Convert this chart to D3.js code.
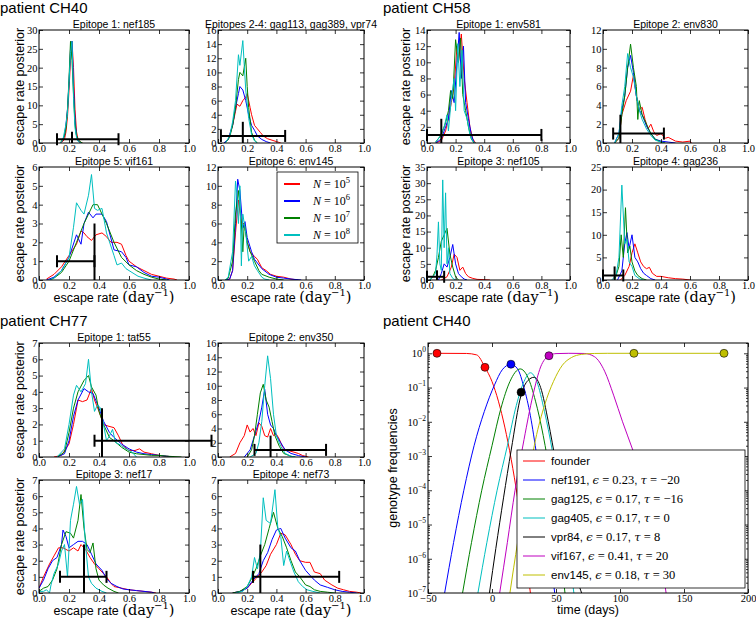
<!DOCTYPE html>
<html><head><meta charset="utf-8">
<script src="https://cdn.jsdelivr.net/npm/d3@7"></script>
<style>body{margin:0;background:#fff}</style>
</head><body>
<script>
// ================= DATA =================
const xTicks = [0, 0.2, 0.4, 0.6, 0.8, 1.0];
const popLabels = ["5", "6", "7", "8"]; // N = 10^k

// ---- patient CH40 ----
const ch40_nef185_N5 = [[0.14,0],[0.15,0.2],[0.16,0.5],[0.17,1],[0.18,3],[0.19,7],[0.20,14],[0.21,22],[0.22,27],[0.23,20],[0.24,9],[0.25,3],[0.26,1],[0.27,0.4],[0.28,0.2],[0.29,0]];
const ch40_nef185_N6 = [[0.14,0],[0.15,0.3],[0.16,1],[0.17,2],[0.18,5],[0.19,9],[0.20,16],[0.21,25],[0.22,27],[0.23,15],[0.24,6],[0.25,2],[0.26,0.5],[0.27,0.2],[0.28,0]];
const ch40_nef185_N7 = [[0.14,0],[0.15,0.5],[0.16,1],[0.17,2],[0.18,4],[0.19,9],[0.20,17],[0.21,27],[0.22,22],[0.23,13],[0.24,5],[0.25,2],[0.26,1],[0.27,0.5],[0.28,0.2],[0.29,0]];
const ch40_nef185_N8 = [[0.14,0],[0.15,0.3],[0.16,1],[0.17,3],[0.18,5],[0.19,8],[0.20,16],[0.21,24],[0.22,27],[0.23,12],[0.24,4],[0.25,1.5],[0.26,0.5],[0.27,0.2],[0.28,0]];

const ch40_e24_N5 = [[0.04,0],[0.07,0.5],[0.1,2.5],[0.12,4.5],[0.13,5.5],[0.15,5.2],[0.17,6.0],[0.19,6.5],[0.2,7.0],[0.22,5],[0.23,4],[0.25,2.5],[0.27,2],[0.29,1.5],[0.31,1],[0.34,0.6],[0.37,0.4],[0.4,0.2],[0.43,0]];
const ch40_e24_N6 = [[0.04,0],[0.07,0.5],[0.1,2.5],[0.12,5],[0.14,7],[0.15,8],[0.17,7.5],[0.19,6],[0.21,4],[0.23,2.5],[0.25,1.8],[0.27,1],[0.3,0.5],[0.33,0.2],[0.36,0]];
const ch40_e24_N7 = [[0.05,0],[0.08,0.8],[0.1,2.5],[0.12,5],[0.14,9],[0.15,10],[0.17,9.5],[0.19,12],[0.2,8],[0.21,5],[0.23,1.5],[0.25,0.4],[0.27,0]];
const ch40_e24_N8 = [[0.05,0],[0.08,1],[0.1,3],[0.12,6],[0.14,12.5],[0.15,11],[0.17,14.5],[0.18,11],[0.19,7.5],[0.21,3.5],[0.23,1.2],[0.25,0.3],[0.27,0]];

const ch40_vif161_N5 = [[0.05,0.05],[0.1,0.3],[0.15,0.7],[0.2,1.3],[0.25,1.9],[0.28,2.6],[0.3,2.5],[0.32,2.3],[0.35,2.1],[0.38,2.4],[0.42,2.5],[0.45,2.3],[0.48,2.0],[0.52,2.0],[0.55,1.9],[0.58,1.3],[0.6,1.0],[0.65,0.7],[0.7,0.5],[0.75,0.3],[0.8,0.2],[0.85,0.1],[0.9,0.05],[0.92,0]];
const ch40_vif161_N6 = [[0.05,0],[0.1,0.15],[0.15,0.5],[0.2,1.2],[0.25,2.4],[0.28,1.9],[0.3,3.0],[0.33,3.6],[0.36,3.3],[0.38,3.5],[0.42,3.5],[0.45,3.1],[0.5,1.6],[0.55,1.5],[0.58,1.2],[0.6,0.8],[0.65,0.7],[0.7,0.4],[0.75,0.2],[0.8,0.15],[0.85,0.05],[0.87,0]];
const ch40_vif161_N7 = [[0.07,0],[0.1,0.1],[0.15,0.4],[0.2,1.0],[0.25,2.0],[0.3,3.0],[0.33,3.5],[0.36,4.0],[0.39,4.0],[0.42,3.5],[0.45,3.0],[0.5,2.0],[0.55,1.2],[0.6,0.8],[0.65,0.5],[0.7,0.3],[0.75,0.15],[0.8,0.05],[0.85,0]];
const ch40_vif161_N8 = [[0.07,0],[0.1,0.1],[0.15,0.5],[0.2,1.2],[0.23,2.8],[0.25,4.1],[0.28,3.7],[0.3,3.5],[0.33,4.5],[0.35,5.6],[0.37,3.8],[0.39,3.7],[0.42,3.8],[0.45,2.5],[0.5,1.3],[0.52,0.8],[0.55,0.9],[0.58,0.6],[0.62,0.4],[0.66,0.2],[0.7,0.1],[0.75,0]];

const ch40_env145_N5 = [[0.05,0],[0.08,0.1],[0.1,1],[0.12,5],[0.14,8.5],[0.16,6],[0.18,6],[0.2,4],[0.22,3],[0.25,2.5],[0.27,2.2],[0.3,1.3],[0.33,1],[0.36,0.6],[0.4,0.4],[0.45,0.3],[0.5,0.1],[0.55,0]];
const ch40_env145_N6 = [[0.05,0],[0.08,0.1],[0.1,1],[0.12,6],[0.135,10.7],[0.15,9.5],[0.17,5.5],[0.185,6.2],[0.2,4.5],[0.23,3],[0.25,2.2],[0.3,1.2],[0.35,0.6],[0.4,0.3],[0.45,0.2],[0.5,0.1],[0.57,0]];
const ch40_env145_N7 = [[0.05,0],[0.07,0.2],[0.1,2],[0.12,7],[0.14,9.5],[0.16,6],[0.17,3],[0.18,6],[0.2,4],[0.22,3],[0.25,2],[0.28,1],[0.3,0.6],[0.35,0.3],[0.4,0.1],[0.45,0]];
const ch40_env145_N8 = [[0.05,0],[0.07,0.3],[0.1,3],[0.12,10.5],[0.13,9],[0.14,6],[0.15,10],[0.16,1.5],[0.17,7],[0.19,5],[0.21,2],[0.23,2.5],[0.25,1.5],[0.27,1],[0.3,0.3],[0.32,0.1],[0.35,0]];

// ---- patient CH58 ----
const ch58_env581_N5 = [[0.06,0],[0.1,0.3],[0.13,1.5],[0.15,3],[0.17,5],[0.19,7],[0.21,12],[0.22,10],[0.24,13.5],[0.26,8],[0.28,5],[0.3,2],[0.32,0.5],[0.34,0]];
const ch58_env581_N6 = [[0.06,0],[0.1,0.5],[0.13,2],[0.15,3],[0.17,6.5],[0.19,5],[0.21,10],[0.225,13.7],[0.24,8],[0.255,12],[0.27,5],[0.29,3],[0.31,1],[0.33,0]];
const ch58_env581_N7 = [[0.06,0.1],[0.1,1],[0.13,2.5],[0.15,4],[0.165,6.5],[0.18,5.5],[0.2,12.8],[0.22,10],[0.235,13],[0.25,6],[0.27,4],[0.29,2],[0.31,0.5],[0.33,0]];
const ch58_env581_N8 = [[0.06,0.1],[0.09,0.8],[0.12,2],[0.14,3.5],[0.15,1.5],[0.17,5.5],[0.19,8],[0.2,4],[0.215,12.3],[0.23,7],[0.245,11.5],[0.26,4],[0.28,3],[0.3,1],[0.32,0.2],[0.34,0]];

const ch58_env830_N5 = [[0.08,0],[0.11,0.5],[0.13,3],[0.16,4.5],[0.19,5.5],[0.21,7.2],[0.23,5],[0.25,3.5],[0.27,3.8],[0.29,2.5],[0.31,1.5],[0.33,2],[0.35,1.2],[0.37,0.8],[0.4,1.0],[0.43,0.5],[0.45,0.6],[0.5,0.2],[0.55,0.1],[0.6,0.2],[0.61,0]];
const ch58_env830_N6 = [[0.08,0],[0.11,1],[0.13,3.5],[0.15,5],[0.17,8],[0.19,9.3],[0.21,7.5],[0.23,5],[0.25,3.5],[0.27,3],[0.3,1.8],[0.33,1],[0.36,0.4],[0.4,0.2],[0.45,0.1],[0.5,0]];
const ch58_env830_N7 = [[0.08,0],[0.11,0.5],[0.13,3],[0.15,5],[0.17,8],[0.19,10.5],[0.21,8],[0.23,6],[0.24,2.5],[0.25,4.5],[0.27,3],[0.3,2],[0.33,1],[0.36,0.4],[0.4,0.1],[0.43,0]];
const ch58_env830_N8 = [[0.08,0],[0.11,1],[0.13,4],[0.15,6],[0.17,9.5],[0.19,8],[0.21,7],[0.23,5],[0.25,3.5],[0.27,2.5],[0.3,1.5],[0.33,0.8],[0.36,0.3],[0.4,0.1],[0.42,0]];

const ch58_nef105_N5 = [[0.1,0],[0.14,1],[0.17,4],[0.19,8],[0.21,7],[0.23,3],[0.25,4],[0.27,2],[0.29,1],[0.32,0.5],[0.35,0.2],[0.4,0.1],[0.44,0]];
const ch58_nef105_N6 = [[0.08,0],[0.1,2],[0.12,5],[0.14,4],[0.16,7],[0.18,11],[0.2,5],[0.22,2],[0.24,1],[0.26,0.3],[0.28,0]];
const ch58_nef105_N7 = [[0.02,0],[0.04,1],[0.06,3],[0.08,7],[0.1,12],[0.12,14],[0.14,16],[0.16,8],[0.18,4],[0.2,1],[0.22,0]];
const ch58_nef105_N8 = [[0.02,0],[0.04,1],[0.06,2],[0.07,8],[0.08,18],[0.09,5],[0.1,3],[0.11,31],[0.12,10],[0.13,27],[0.14,5],[0.15,10],[0.16,2],[0.18,0.5],[0.2,0]];

const ch58_gag236_N5 = [[0.12,0],[0.15,1],[0.18,3],[0.2,6],[0.22,8],[0.24,6],[0.26,4],[0.28,3],[0.3,2.5],[0.32,2.8],[0.34,1.5],[0.37,0.8],[0.4,0.8],[0.45,0.5],[0.5,0.3],[0.55,0.2],[0.6,0]];
const ch58_gag236_N6 = [[0.1,0],[0.13,2],[0.15,8],[0.165,10.5],[0.18,7],[0.2,10],[0.22,5],[0.24,4],[0.26,2.5],[0.28,1.5],[0.3,1],[0.33,0.3],[0.36,0]];
const ch58_gag236_N7 = [[0.08,0],[0.11,3],[0.125,10],[0.14,5],[0.155,16],[0.17,6],[0.185,7.5],[0.2,4],[0.22,2],[0.24,1],[0.27,0.3],[0.3,0]];
const ch58_gag236_N8 = [[0.06,0],[0.09,1],[0.11,5],[0.13,21],[0.15,8],[0.165,9],[0.18,4],[0.2,3],[0.22,1],[0.25,0.3],[0.28,0]];

// ---- patient CH77 ----
const ch77_tat55_N5 = [[0.1,0],[0.15,0.1],[0.2,0.8],[0.23,2],[0.26,3.5],[0.29,3.4],[0.32,3.5],[0.35,4.2],[0.37,3.5],[0.4,2.8],[0.43,2.0],[0.46,1.9],[0.5,1.8],[0.53,1.3],[0.56,0.7],[0.6,0.4],[0.64,0.4],[0.67,0.5],[0.7,0.3],[0.75,0.2],[0.8,0.1],[0.85,0.05],[0.9,0]];
const ch77_tat55_N6 = [[0.12,0],[0.17,0.2],[0.2,1],[0.23,2.5],[0.26,3.5],[0.3,4.2],[0.33,4.0],[0.36,3.9],[0.4,3.0],[0.43,2.2],[0.47,1.5],[0.5,1.2],[0.55,0.8],[0.6,0.5],[0.65,0.3],[0.7,0.2],[0.75,0.15],[0.8,0.1],[0.85,0.05],[0.9,0]];
const ch77_tat55_N7 = [[0.12,0],[0.17,0.3],[0.2,1.5],[0.23,3],[0.26,4],[0.3,4.7],[0.33,5.0],[0.35,4.3],[0.38,3.8],[0.4,2.8],[0.43,2.0],[0.47,1.2],[0.5,1.0],[0.55,0.6],[0.6,0.3],[0.65,0.2],[0.7,0.15],[0.75,0.1],[0.8,0.1],[0.85,0.05],[0.95,0]];
const ch77_tat55_N8 = [[0.12,0],[0.17,0.5],[0.2,2],[0.23,3.8],[0.25,4.4],[0.28,4.0],[0.31,4.5],[0.33,6.0],[0.35,4.0],[0.37,2.8],[0.39,3.2],[0.41,3.0],[0.43,2.0],[0.45,1.0],[0.47,1.3],[0.49,1.7],[0.51,0.9],[0.55,0.7],[0.58,0.5],[0.62,0.3],[0.65,0]];

const ch77_env350_N5 = [[0.08,0],[0.12,0.5],[0.15,2],[0.18,3],[0.2,4.5],[0.22,3.5],[0.24,4],[0.26,3],[0.28,4.8],[0.3,4.3],[0.32,3],[0.34,2.8],[0.36,4],[0.38,3],[0.4,3.2],[0.42,2.5],[0.44,1.5],[0.46,1.0],[0.5,0.8],[0.55,0.5],[0.58,0.2],[0.62,0]];
const ch77_env350_N6 = [[0.18,0],[0.22,1],[0.25,3],[0.28,5],[0.3,7],[0.32,9.5],[0.34,6],[0.36,4.5],[0.38,4],[0.4,3],[0.43,2],[0.46,1],[0.5,0.5],[0.55,0.2],[0.6,0]];
const ch77_env350_N7 = [[0.2,0],[0.23,1],[0.25,3],[0.27,6],[0.29,9],[0.31,10.2],[0.33,8],[0.35,7],[0.37,5],[0.39,3],[0.42,1.5],[0.45,0.5],[0.5,0.1],[0.53,0]];
const ch77_env350_N8 = [[0.22,0],[0.26,0.5],[0.28,2],[0.3,5],[0.32,10],[0.34,14.2],[0.36,11],[0.38,6],[0.4,3],[0.43,1.5],[0.46,0.5],[0.5,0.1],[0.53,0]];

const ch77_nef17_N5 = [[0.0,0.3],[0.03,1.0],[0.07,1.8],[0.1,2.3],[0.13,2.8],[0.16,2.8],[0.2,2.6],[0.23,2.8],[0.26,2.6],[0.28,3.0],[0.31,2.7],[0.34,2.2],[0.37,1.8],[0.4,1.5],[0.43,1.2],[0.45,1.0],[0.48,0.6],[0.5,0.4],[0.55,0.3],[0.6,0.2],[0.65,0.15],[0.7,0.1],[0.75,0.05],[0.78,0]];
const ch77_nef17_N6 = [[0.0,0.3],[0.03,0.8],[0.06,1.5],[0.09,2.0],[0.12,2.2],[0.15,3.0],[0.16,3.9],[0.18,3.5],[0.2,2.8],[0.23,3.0],[0.26,3.2],[0.29,3.2],[0.32,3.0],[0.35,2.4],[0.38,1.8],[0.42,1.4],[0.45,0.9],[0.48,0.6],[0.52,0.4],[0.56,0.25],[0.6,0.2],[0.65,0.15],[0.7,0.1],[0.75,0.05],[0.77,0]];
const ch77_nef17_N7 = [[0.0,0.1],[0.03,0.3],[0.06,0.4],[0.09,0.8],[0.12,1.5],[0.15,3.0],[0.18,3.8],[0.21,3.7],[0.23,3.4],[0.26,4.5],[0.28,6.1],[0.3,4.0],[0.32,2.7],[0.34,2.5],[0.36,3.1],[0.38,1.5],[0.4,0.8],[0.43,0.5],[0.46,0.3],[0.5,0.1],[0.53,0]];
const ch77_nef17_N8 = [[0.0,0.1],[0.03,0.1],[0.05,0.2],[0.07,0.0],[0.08,0.5],[0.1,1.2],[0.13,1.8],[0.15,2.6],[0.17,3.0],[0.19,1.0],[0.21,4.5],[0.23,5.5],[0.25,6.6],[0.27,5.5],[0.29,5.8],[0.31,3.0],[0.33,1.0],[0.35,0.6],[0.38,0.3],[0.42,0.1],[0.45,0]];

const ch77_nef73_N5 = [[0.1,0],[0.15,0.1],[0.2,0.3],[0.23,0.6],[0.26,0.9],[0.3,1.3],[0.33,1.7],[0.36,2.4],[0.4,3.0],[0.43,3.7],[0.46,3.6],[0.5,3.0],[0.53,2.4],[0.56,2.0],[0.6,1.9],[0.63,1.9],[0.66,1.3],[0.7,1.2],[0.73,0.8],[0.78,0.5],[0.82,0.3],[0.86,0.2],[0.9,0.1],[0.95,0.05],[0.98,0]];
const ch77_nef73_N6 = [[0.1,0],[0.15,0.1],[0.2,0.3],[0.24,0.8],[0.28,1.2],[0.31,2.0],[0.34,2.5],[0.37,3.3],[0.4,3.9],[0.43,4.0],[0.46,3.4],[0.5,2.8],[0.53,2.6],[0.56,2.0],[0.6,1.4],[0.63,1.1],[0.66,0.8],[0.7,0.5],[0.75,0.35],[0.8,0.2],[0.85,0.1],[0.9,0.05],[0.95,0]];
const ch77_nef73_N7 = [[0.1,0],[0.15,0.1],[0.2,0.4],[0.23,0.9],[0.26,1.5],[0.29,2.3],[0.32,3.0],[0.35,4.0],[0.38,5.0],[0.41,4.0],[0.44,3.5],[0.47,2.8],[0.5,2.0],[0.53,1.3],[0.56,1.0],[0.6,0.5],[0.63,0.4],[0.66,0.2],[0.7,0.1],[0.75,0.05],[0.8,0]];
const ch77_nef73_N8 = [[0.12,0],[0.17,0.1],[0.2,0.4],[0.23,1.0],[0.25,2.2],[0.27,1.5],[0.29,2.5],[0.31,5.9],[0.33,4.5],[0.36,4.3],[0.39,6.4],[0.41,4.0],[0.43,3.5],[0.45,1.7],[0.47,2.6],[0.5,1.8],[0.52,1.3],[0.55,0.7],[0.58,0.4],[0.61,0.2],[0.65,0.1],[0.7,0]];

// ---- error bars: [low, high, point estimate] ----
const err_ch40 = [[0.12,0.53,0.22],[0.02,0.46,0.17],[0.12,0.37,0.37],null];
const err_ch58 = [[0.0,0.80,0.10],[0.07,0.42,0.12],[0.0,0.12,0.07],[0.0,0.14,0.08]];
const err_ch77 = [[0.37,1.15,0.42],[0.25,0.74,0.36],[0.14,0.45,0.30],[0.24,0.83,0.29]];

// ---- genotype frequencies, patient CH40: [day, frequency] ----
const geno_founder = [[-43,1],[-20,0.99],[-12,0.9],[-5.5,0.39],[0,0.15],[5,0.04],[10,0.007],[15,8e-4],[20,6e-5],[25,3e-6],[30,1e-7]];
const geno_nef191 = [[-37,1e-7],[-30,3e-6],[-22,1e-4],[-14,2e-3],[-6,0.02],[2,0.12],[8,0.33],[14.8,0.48],[20,0.35],[25,0.1],[30,0.015],[35,1e-3],[40,5e-5],[45,1.5e-6],[49,1e-7]];
const geno_gag125 = [[-23,1e-7],[-16,3e-6],[-8,1e-4],[0,2e-3],[7,0.025],[14,0.15],[22,0.35],[28,0.2],[34,0.04],[40,4e-3],[46,2e-4],[52,5e-6],[57,1e-7]];
const geno_gag405 = [[-11,1e-7],[-4,3e-6],[4,1e-4],[12,2e-3],[19,0.03],[25,0.15],[30,0.27],[35,0.15],[41,0.02],[47,1.5e-3],[53,6e-5],[59,2e-6],[64,1e-7]];
const geno_vpr84 = [[-2,1e-7],[3,2e-6],[9,6e-5],[15,1.5e-3],[22.7,0.06],[28,0.16],[33,0.2],[38,0.1],[44,0.01],[50,6e-4],[57,2e-5],[64,6e-7],[70,1e-7]];
const geno_vif167 = [[6,1e-7],[12,3e-6],[18,1e-4],[25,3e-3],[32,0.06],[38,0.4],[44.5,0.85],[50,0.98],[60,1],[72,0.99],[80,0.8],[88,0.3],[95,0.06],[102,0.01],[110,1.5e-3],[118,2e-4],[125,2e-5],[130,3e-6],[136,1e-7]];
const geno_env145 = [[14,1e-7],[20,3e-6],[27,1e-4],[34,3e-3],[41,0.03],[48,0.15],[55,0.45],[62,0.75],[70,0.93],[80,0.99],[90,1],[110.9,1],[181.25,1]];
const geno_dots = [["founder",-43,1],["founder",-5.5,0.39],["nef191",14.8,0.48],["vpr84",22.7,0.073],["vif167",44.5,0.85],["env145",110.9,1],["env145",181.25,1]];
const genoNames = ["founder","nef191","gag125","gag405","vpr84","vif167","env145"];
const genoEps = [null,"0.23","0.17","0.17","0.17","0.41","0.18"];
const genoTau = [null,"−20","−16","0","8","20","30"];
const genoXTicks = [-50,0,50,100,150,200];

// ================= STYLE / LAYOUT =================
const popColors = ["#ff0000","#0000ff","#008000","#00bfbf"];
const genoColors = {founder:"#ff0000",nef191:"#0000ff",gag125:"#008000",gag405:"#00bfbf",vpr84:"#000000",vif167:"#bf00bf",env145:"#bfbf00"};
const SANS = "'Liberation Sans', Arial, sans-serif";
const SERIF = "'Liberation Serif', 'Times New Roman', serif";
const MSERIF = "'DejaVu Serif', serif";
const TICKFS = 10.5;

const panels = [
  {title:"Epitope 1: nef185", ymax:30, ystep:5, s:[ch40_nef185_N5,ch40_nef185_N6,ch40_nef185_N7,ch40_nef185_N8], e:err_ch40[0], r:[39,30,189,143], yl:true},
  {title:"Epitopes 2-4: gag113, gag389, vpr74", ymax:16, ystep:2, s:[ch40_e24_N5,ch40_e24_N6,ch40_e24_N7,ch40_e24_N8], e:err_ch40[1], r:[218,30,364,143]},
  {title:"Epitope 5: vif161", ymax:6, ystep:1, s:[ch40_vif161_N5,ch40_vif161_N6,ch40_vif161_N7,ch40_vif161_N8], e:err_ch40[2], r:[39,167,189,280], yl:true, xl:true},
  {title:"Epitope 6: env145", ymax:12, ystep:2, s:[ch40_env145_N5,ch40_env145_N6,ch40_env145_N7,ch40_env145_N8], e:err_ch40[3], r:[218,167,364,280], xl:true, legend:true},
  {title:"Epitope 1: env581", ymax:14, ystep:2, s:[ch58_env581_N5,ch58_env581_N6,ch58_env581_N7,ch58_env581_N8], e:err_ch58[0], r:[427,30,570,143], yl:true},
  {title:"Epitope 2: env830", ymax:12, ystep:2, s:[ch58_env830_N5,ch58_env830_N6,ch58_env830_N7,ch58_env830_N8], e:err_ch58[1], r:[603,30,748,143]},
  {title:"Epitope 3: nef105", ymax:35, ystep:5, s:[ch58_nef105_N5,ch58_nef105_N6,ch58_nef105_N7,ch58_nef105_N8], e:err_ch58[2], r:[427,167,570,280], yl:true, xl:true},
  {title:"Epitope 4: gag236", ymax:25, ystep:5, s:[ch58_gag236_N5,ch58_gag236_N6,ch58_gag236_N7,ch58_gag236_N8], e:err_ch58[3], r:[603,167,748,280], xl:true},
  {title:"Epitope 1: tat55", ymax:7, ystep:1, s:[ch77_tat55_N5,ch77_tat55_N6,ch77_tat55_N7,ch77_tat55_N8], e:err_ch77[0], r:[39,343,189,457], yl:true},
  {title:"Epitope 2: env350", ymax:16, ystep:2, s:[ch77_env350_N5,ch77_env350_N6,ch77_env350_N7,ch77_env350_N8], e:err_ch77[1], r:[218,343,364,457]},
  {title:"Epitope 3: nef17", ymax:7, ystep:1, s:[ch77_nef17_N5,ch77_nef17_N6,ch77_nef17_N7,ch77_nef17_N8], e:err_ch77[2], r:[39,480,189,593], yl:true, xl:true},
  {title:"Epitope 4: nef73", ymax:7, ystep:1, s:[ch77_nef73_N5,ch77_nef73_N6,ch77_nef73_N7,ch77_nef73_N8], e:err_ch77[3], r:[218,480,364,593], xl:true}
];

const svg = d3.select("body").append("svg").attr("width",756).attr("height",622)
  .style("display","block").style("background","#fff");
const defs = svg.append("defs");

function styleAxis(g, font, size){
  g.select(".domain").remove();
  g.selectAll(".tick line").attr("stroke","#000").attr("stroke-width",0.8);
  g.selectAll("text").attr("font-family",font).attr("font-size",size).attr("fill","#000");
}

function xLabel(cx, y){
  const t = svg.append("text").attr("x",cx).attr("y",y).attr("text-anchor","middle").attr("fill","#000");
  t.append("tspan").attr("font-family",SANS).attr("font-size",12.5).text("escape rate ");
  t.append("tspan").attr("font-family",MSERIF).attr("font-size",14.5).text("(day");
  t.append("tspan").attr("font-family",MSERIF).attr("font-size",10).attr("dy",-6).text("−1");
  t.append("tspan").attr("font-family",MSERIF).attr("font-size",14.5).attr("dy",6).text(")");
}

panels.forEach((p,i)=>{
  const [x0,y0,x1,y1] = p.r;
  const x = d3.scaleLinear().domain([0,1]).range([x0,x1]);
  const y = d3.scaleLinear().domain([0,p.ymax]).range([y1,y0]);
  const id = "clip"+i;
  defs.append("clipPath").attr("id",id).append("rect").attr("x",x0).attr("y",y0).attr("width",x1-x0).attr("height",y1-y0);
  const g = svg.append("g");
  const line = d3.line().x(d=>x(d[0])).y(d=>y(d[1]));
  p.s.forEach((s,k)=>{
    g.append("path").attr("d",line(s)).attr("fill","none").attr("stroke",popColors[k])
      .attr("stroke-width",1).attr("stroke-linejoin","round").attr("clip-path",`url(#${id})`);
  });
  if(p.e){
    const [lo,hi,mid] = p.e;
    const eg = g.append("g").attr("stroke","#000").attr("stroke-width",2);
    eg.append("line").attr("x1",x(lo)).attr("x2",x(hi)).attr("y1",y(1)).attr("y2",y(1));
    [lo,hi].forEach(v=>eg.append("line").attr("x1",x(v)).attr("x2",x(v)).attr("y1",y(1)-6).attr("y2",y(1)+6));
    eg.append("line").attr("x1",x(mid)).attr("x2",x(mid)).attr("y1",y(0)).attr("y2",y(3));
  }
  g.append("rect").attr("x",x0).attr("y",y0).attr("width",x1-x0).attr("height",y1-y0)
    .attr("fill","none").attr("stroke","#000").attr("stroke-width",1);
  const yt = d3.range(0,p.ymax+1e-9,p.ystep);
  g.append("g").attr("transform",`translate(0,${y1})`)
    .call(d3.axisBottom(x).tickValues(xTicks).tickSize(-4).tickPadding(1.5).tickFormat(d3.format(".1f")))
    .call(a=>styleAxis(a,SERIF,TICKFS));
  g.append("g").attr("transform",`translate(0,${y0})`)
    .call(d3.axisTop(x).tickValues(xTicks).tickSize(-4).tickFormat(""))
    .call(a=>styleAxis(a,SERIF,TICKFS));
  g.append("g").attr("transform",`translate(${x0},0)`)
    .call(d3.axisLeft(y).tickValues(yt).tickSize(-4).tickPadding(1.5).tickFormat(d3.format("d")))
    .call(a=>styleAxis(a,SERIF,TICKFS));
  g.append("g").attr("transform",`translate(${x1},0)`)
    .call(d3.axisRight(y).tickValues(yt).tickSize(-4).tickFormat(""))
    .call(a=>styleAxis(a,SERIF,TICKFS));
  svg.append("text").attr("x",(x0+x1)/2).attr("y",y0-2.5).attr("text-anchor","middle")
    .attr("font-family",SANS).attr("font-size",10.5).attr("fill","#000").text(p.title);
  if(p.yl){
    const lx = x0 < 300 ? 24 : 410;
    svg.append("text").attr("transform",`translate(${lx},${(y0+y1)/2}) rotate(-90)`).attr("text-anchor","middle")
      .attr("font-family",SANS).attr("font-size",12.5).attr("fill","#000").text("escape rate posterior");
  }
  if(p.xl) xLabel((x0+x1)/2, y1+22);
  if(p.legend){
    const lg = svg.append("g");
    lg.append("rect").attr("x",277).attr("y",172).attr("width",81).attr("height",71)
      .attr("fill","#fff").attr("stroke","#000").attr("stroke-width",0.8);
    popLabels.forEach((k,j)=>{
      const ly = 184 + j*17;
      lg.append("line").attr("x1",284).attr("x2",300).attr("y1",ly).attr("y2",ly)
        .attr("stroke",popColors[j]).attr("stroke-width",2);
      const t = lg.append("text").attr("x",313).attr("y",ly+4).attr("font-family",SERIF).attr("font-size",12).attr("fill","#000");
      t.append("tspan").attr("font-style","italic").text("N");
      t.append("tspan").text(" = 10");
      t.append("tspan").attr("font-size",8.5).attr("dy",-5).text(k);
    });
  }
});

// patient titles
[["patient CH40",0,13],["patient CH58",383,13],["patient CH77",0,326],["patient CH40",383,326]].forEach(d=>{
  svg.append("text").attr("x",d[1]).attr("y",d[2]).attr("font-family",SANS).attr("font-size",15).attr("fill","#000").text(d[0]);
});

// ================= GENOTYPE PANEL =================
(function(){
  const x0=428,x1=748,y0=343,y1=593;
  const x = d3.scaleLinear().domain([-50,200]).range([x0,x1]);
  const y = d3.scaleLog().domain([1e-7,2]).range([y1,y0]);
  defs.append("clipPath").attr("id","clipG").append("rect").attr("x",x0).attr("y",y0).attr("width",x1-x0).attr("height",y1-y0);
  const g = svg.append("g");
  const line = d3.line().x(d=>x(d[0])).y(d=>y(d[1])).curve(d3.curveMonotoneX);
  const series = {founder:geno_founder,nef191:geno_nef191,gag125:geno_gag125,gag405:geno_gag405,vpr84:geno_vpr84,vif167:geno_vif167,env145:geno_env145};
  genoNames.forEach(n=>{
    g.append("path").attr("d",line(series[n])).attr("fill","none").attr("stroke",genoColors[n])
      .attr("stroke-width",1).attr("clip-path","url(#clipG)");
  });
  geno_dots.forEach(d=>{
    g.append("circle").attr("cx",x(d[1])).attr("cy",y(d[2])).attr("r",4)
      .attr("fill",genoColors[d[0]]).attr("stroke","#000").attr("stroke-width",0.6);
  });
  g.append("rect").attr("x",x0).attr("y",y0).attr("width",x1-x0).attr("height",y1-y0)
    .attr("fill","none").attr("stroke","#000");
  const major = d3.range(-7,1).map(k=>Math.pow(10,k));
  const minor = [];
  d3.range(-7,1).forEach(k=>{ for(let m=2;m<10;m++){ const v=m*Math.pow(10,k); if(v<=2) minor.push(v);} });
  g.append("g").attr("transform",`translate(0,${y1})`)
    .call(d3.axisBottom(x).tickValues(genoXTicks).tickSize(-4).tickPadding(1.5).tickFormat(d3.format("d")))
    .call(a=>styleAxis(a,SERIF,TICKFS));
  g.append("g").attr("transform",`translate(0,${y0})`)
    .call(d3.axisTop(x).tickValues(genoXTicks).tickSize(-4).tickFormat(""))
    .call(a=>styleAxis(a,SERIF,TICKFS));
  const ya = g.append("g").attr("transform",`translate(${x0},0)`)
    .call(d3.axisLeft(y).tickValues(major).tickSize(-4).tickPadding(2).tickFormat(d=>""+Math.round(Math.log10(d))))
    .call(a=>styleAxis(a,SERIF,TICKFS));
  ya.selectAll(".tick text").each(function(d){
    const t = d3.select(this); const e = Math.round(Math.log10(d));
    t.text(null);
    t.append("tspan").text("10");
    t.append("tspan").attr("font-size",7.5).attr("dy",-5).text(e===0?"0":"−"+(-e));
  });
  g.append("g").attr("transform",`translate(${x0},0)`)
    .call(d3.axisLeft(y).tickValues(minor).tickSize(-2).tickFormat("")).call(a=>styleAxis(a,SERIF,11));
  g.append("g").attr("transform",`translate(${x1},0)`)
    .call(d3.axisRight(y).tickValues(major).tickSize(-4).tickFormat("")).call(a=>styleAxis(a,SERIF,11));
  g.append("g").attr("transform",`translate(${x1},0)`)
    .call(d3.axisRight(y).tickValues(minor).tickSize(-2).tickFormat("")).call(a=>styleAxis(a,SERIF,11));

  svg.append("text").attr("x",(x0+x1)/2).attr("y",614).attr("text-anchor","middle")
    .attr("font-family",SANS).attr("font-size",12.5).attr("fill","#000").text("time (days)");
  svg.append("text").attr("transform",`translate(397,${(y0+y1)/2}) rotate(-90)`).attr("text-anchor","middle")
    .attr("font-family",SANS).attr("font-size",12.5).attr("fill","#000").text("genotype frequencies");

  // legend
  const lg = svg.append("g");
  lg.append("rect").attr("x",517).attr("y",450).attr("width",228).attr("height",138)
    .attr("fill","#fff").attr("stroke","#000").attr("stroke-width",0.8);
  genoNames.forEach((n,j)=>{
    const ly = 461 + j*19;
    lg.append("line").attr("x1",523).attr("x2",545).attr("y1",ly).attr("y2",ly).attr("stroke",genoColors[n]).attr("stroke-width",1);
    const t = lg.append("text").attr("x",551).attr("y",ly+3.5).attr("fill","#000").attr("font-family",SANS).attr("font-size",11.5);
    if(genoEps[j]===null){ t.text(n); return; }
    t.append("tspan").text(n+", ");
    t.append("tspan").attr("font-family",MSERIF).attr("font-style","italic").attr("font-size",11.5).text("ϵ");
    t.append("tspan").attr("font-family",SERIF).attr("font-size",12.5).text(" = "+genoEps[j]);
    t.append("tspan").text(", ");
    t.append("tspan").attr("font-family",MSERIF).attr("font-style","italic").attr("font-size",11.5).text("τ");
    t.append("tspan").attr("font-family",SERIF).attr("font-size",12.5).text(" = "+genoTau[j]);
  });
})();
</script>
</body></html>
